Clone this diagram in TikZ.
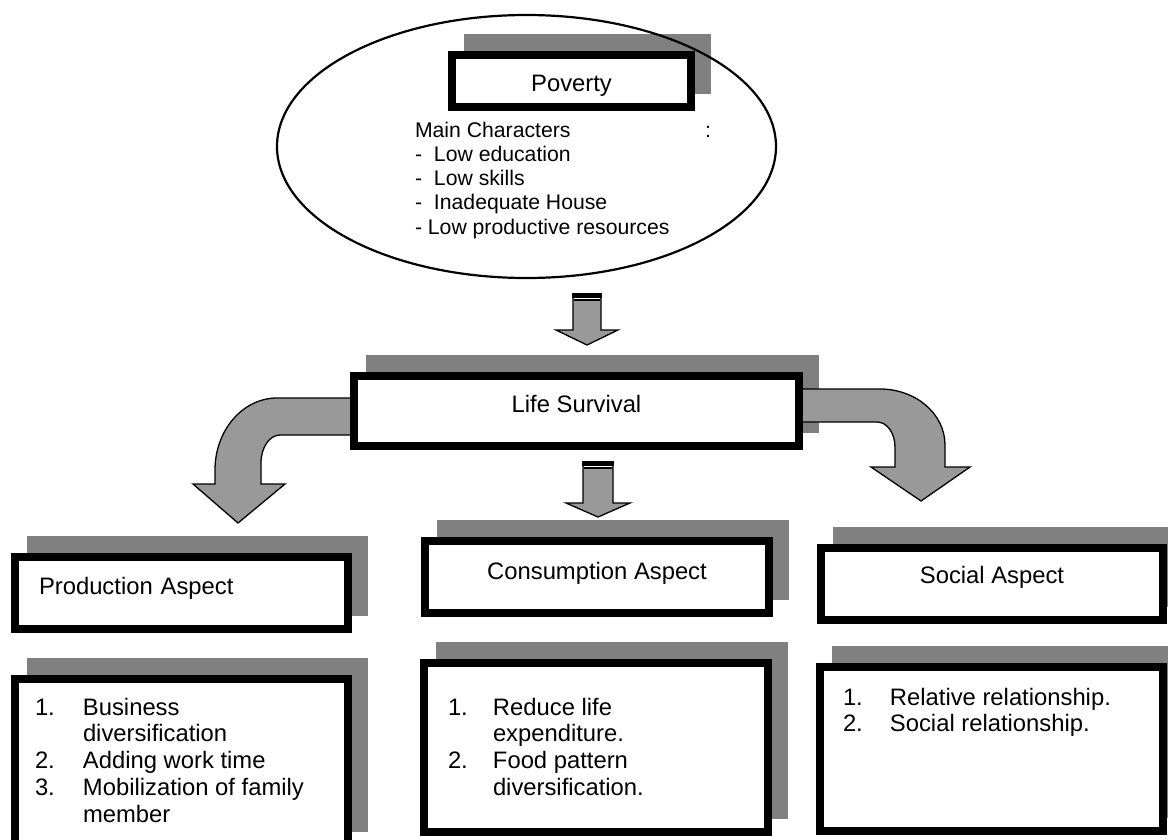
\documentclass[tikz,border=0pt]{standalone}
\usepackage{fontspec}
\setmainfont{Liberation Sans}
\usetikzlibrary{shapes.geometric}
\pgfdeclarelayer{shadowlayer}
\pgfdeclarelayer{arrowlayer}
\pgfsetlayers{shadowlayer,arrowlayer,main}
\definecolor{shadowgray}{HTML}{808080}
\definecolor{arrowgray}{HTML}{999999}
\tikzset{
  thickbox/.style={draw=black, line width=8pt, fill=white, rectangle, inner sep=0pt, outer sep=0pt,
    font=\fontsize{23.8}{26.8}\selectfont, text height=24pt},
  blockarrow/.style={fill=arrowgray, draw=black, line width=1.3pt, line join=miter},
  listtext/.style={anchor=north west, inner sep=0pt, outer sep=0pt, align=left,
    font=\fontsize{23.8}{26.8}\selectfont},
}
\newcommand\boxshadow[1]{\fill[shadowgray] ([shift={(12,-13)}]#1.south west) rectangle ([shift={(20,-21)}]#1.north east);}
\begin{document}
\begin{tikzpicture}[x=1pt,y=-1pt]
\useasboundingbox (0,0) rectangle (1168,839);
% top ellipse
\node[ellipse, draw=black, line width=2.2pt, minimum width=499pt, minimum height=263pt, inner sep=0pt, outer sep=0pt] (ell) at (526.5,146.5) {};
\node[thickbox, minimum width=239pt, minimum height=52pt, text depth=2.6pt] (pov) at (571.5,81) {Poverty};
\node[listtext, font=\fontsize{21.2}{24.3}\selectfont] (chars) at (415,117)
  {\rule{0pt}{20pt}\makebox[290pt][l]{Main Characters}:\\
   \makebox[19pt][l]{-}Low education\\
   \makebox[19pt][l]{-}Low skills\\
   \makebox[19pt][l]{-}Inadequate House\\
   - Low productive resources};
% life survival
\node[thickbox, minimum width=445pt, minimum height=70pt, text depth=22pt] (ls) at (576.5,411) {Life Survival};
% aspect boxes
\node[thickbox, minimum width=333pt, minimum height=72pt, text width=285pt, inner xsep=24pt, align=left, text depth=22pt] (pa) at (181.5,593) {Production Aspect};
\node[thickbox, minimum width=344pt, minimum height=72pt, text depth=20pt] (ca) at (597,577) {Consumption Aspect};
\node[thickbox, minimum width=342pt, minimum height=72pt, text depth=26pt] (sa) at (992,584) {Social Aspect};
% list boxes
\node[thickbox, minimum width=333pt, minimum height=166pt] (pl) at (181.5,762) {};
\node[thickbox, minimum width=344pt, minimum height=169pt] (cl) at (596,747.5) {};
\node[thickbox, minimum width=343pt, minimum height=164pt] (sl) at (991.5,749) {};
\node[listtext] (plt) at (35,695)
  {\rule{0pt}{20pt}\makebox[48pt][l]{1.}Business\\
   \hspace*{48pt}diversification\\
   \makebox[48pt][l]{2.}Adding work time\\
   \makebox[48pt][l]{3.}Mobilization of family\\
   \hspace*{48pt}member};
\node[listtext] (clt) at (448,695)
  {\rule{0pt}{20pt}\makebox[45pt][l]{1.}Reduce life\\
   \hspace*{45pt}expenditure.\\
   \makebox[45pt][l]{2.}Food pattern\\
   \hspace*{45pt}diversification.};
\node[listtext] (slt) at (843,685)
  {\rule{0pt}{20pt}\makebox[47pt][l]{1.}Relative relationship.\\
   \makebox[47pt][l]{2.}Social relationship.};
% shadows
\begin{pgfonlayer}{shadowlayer}
\boxshadow{pov}
\boxshadow{ls}
\boxshadow{pa}
\boxshadow{ca}
\boxshadow{sa}
\boxshadow{pl}
\boxshadow{cl}
\boxshadow{sl}
\end{pgfonlayer}
% arrows
\begin{pgfonlayer}{arrowlayer}
\coordinate (a1) at ([shift={(60.5,16)}]ell.south);
\coordinate (a2) at ([shift={(21.5,16)}]ls.south);
\begin{scope}[shift={(a1)}]
  \filldraw[blockarrow] (-14,0) -- (-14,36) -- (-31,36) -- (0,51) -- (31,36) -- (14,36) -- (14,0) -- cycle;
  \fill[black] (-14.6,-0.6) rectangle (14.6,4);
  \fill[white] (-13.4,4) rectangle (13.4,5.2);
  \fill[black] (-13.4,5.2) rectangle (13.4,7.3);
\end{scope}
\begin{scope}[shift={(a2)}]
  \filldraw[blockarrow] (-15,0) -- (-15,41) -- (-32,41) -- (0,55) -- (32,41) -- (15,41) -- (15,0) -- cycle;
  \fill[black] (-15.6,-0.6) rectangle (15.6,4);
  \fill[white] (-14.4,4) rectangle (14.4,5.2);
  \fill[black] (-14.4,5.2) rectangle (14.4,7.3);
\end{scope}
\begin{scope}[shift={(ls.west)}]
  \filldraw[blockarrow] (6,-13) -- (-77,-13)
    .. controls (-111,-13) and (-139,19) .. (-139,59)
    -- (-139,73) -- (-161,73) -- (-116,112) -- (-69,73) -- (-93,73) -- (-93,52)
    .. controls (-93,36.5) and (-84.5,24) .. (-74,24)
    -- (6,24) -- cycle;
\end{scope}
\begin{scope}[shift={(ls.east)}]
  \filldraw[blockarrow] (-4,-22) -- (81,-22)
    .. controls (117,-22) and (146,3) .. (146,34)
    -- (146,56) -- (171,56) -- (122,90) -- (72,56) -- (96,56) -- (96,36)
    .. controls (96,22) and (88,11) .. (78,11)
    -- (-4,11) -- cycle;
\end{scope}
\end{pgfonlayer}
\end{tikzpicture}
\end{document}
